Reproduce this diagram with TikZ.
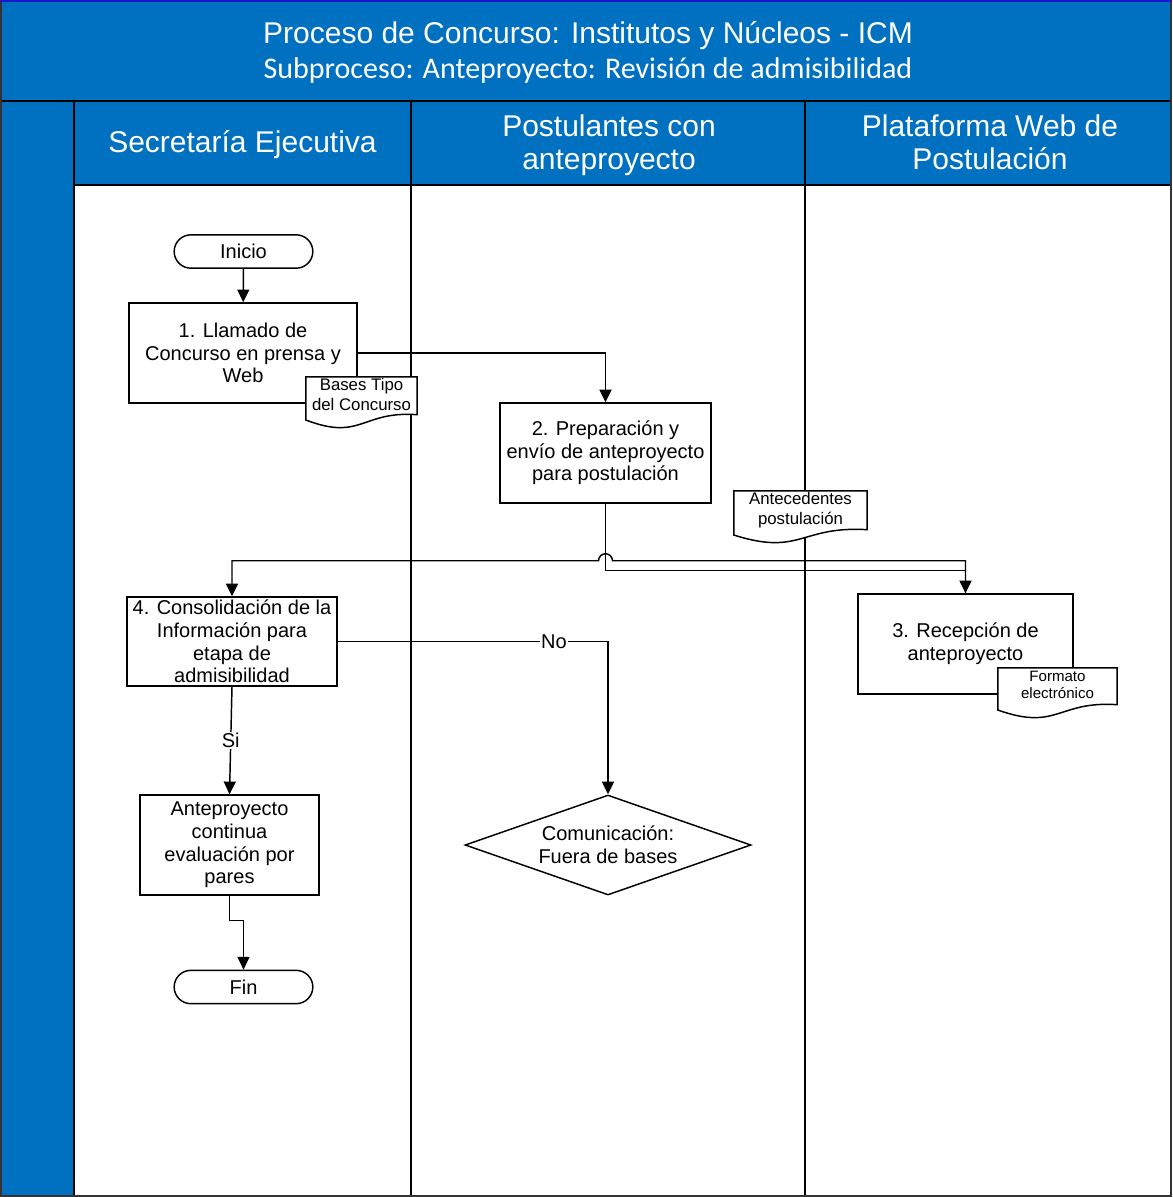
\documentclass[tikz,border=0pt]{standalone}
\usepackage{fontspec}
\setmainfont{Liberation Sans}
\newfontfamily\calibri{Carlito}
\usetikzlibrary{arrows.meta,shapes.geometric}

\definecolor{azul}{HTML}{0070C0}
\definecolor{bordeazul}{HTML}{1818C8}
\newcommand{\piedoc}{\rule[-12pt]{0pt}{0pt}}

\tikzset{
  flujo/.style={line width=1.1pt,-{Triangle[length=9.5pt,width=9pt]}},
  caja/.style={draw,line width=1.1pt,fill=white,align=center,inner sep=1pt,
    font=\fontsize{15}{17}\selectfont},
  terminal/.style={caja,rounded corners=12.5pt,minimum width=104pt,minimum height=25pt},
  rombo/.style={caja,diamond,aspect=2.86,inner sep=0pt,minimum width=214.5pt,minimum height=75pt},
  carril/.style={text=white,align=center,font=\fontsize{22.5}{24.75}\selectfont},
  etiq/.style={fill=white,inner sep=1pt,font=\fontsize{15}{17}\selectfont},
  docu/.style={align=center,inner sep=1pt,font=\fontsize{12.6}{15}\selectfont,
    path picture={
      \draw[fill=white,line width=1.1pt]
        ([shift={(0.6pt,-0.6pt)}]path picture bounding box.north west)
        -- ([shift={(-0.6pt,-0.6pt)}]path picture bounding box.north east)
        -- ([shift={(-0.6pt,10pt)}]path picture bounding box.south east)
        .. controls ([yshift=13pt]path picture bounding box.south)
           and ([yshift=-10pt]path picture bounding box.south)
        .. ([shift={(0.6pt,6pt)}]path picture bounding box.south west)
        -- cycle;
    }}
}

\begin{document}
\begin{tikzpicture}[x=0.75pt,y=-0.75pt]
    \useasboundingbox (0,0) rectangle (1172,1197);
    % Fonds
    \fill[azul] (0,0) rectangle (1172,185);
    \fill[azul] (0,185) rectangle (74,1197);

    % Horizontales
    \draw[line width=1.5pt] (0,101) -- (1172,101);
    \draw[line width=1.5pt] (74,185) -- (1172,185);

    % Verticales
    \draw[line width=1.5pt] (74,101) -- (74,1197);
    \draw[line width=1.5pt] (411,101) -- (411,1197);
    \draw[line width=1.5pt] (805,101) -- (805,1197);

    % Cadre
    \draw[line width=1.5pt,black!80] (1,1) rectangle (1171,1196);
    \draw[line width=1.5pt,bordeazul] (0,1) -- (1172,1);

    % Titre
    \node[carril] (titulo) at (588,36) {Proceso de Concurso: Institutos y Núcleos - ICM};
    \node[carril,font=\calibri\fontsize{22.5}{24.75}\selectfont] (subtitulo) at (588,70)
        {Subproceso: Anteproyecto: Revisión de admisibilidad};

    % Couloirs
    \node[carril] (secretaria) at (242.5,145) {Secretaría Ejecutiva};
    \node[carril] (postulantes) at (609,145) {Postulantes con\\anteproyecto};
    \node[carril] (plataforma) at (990,142) {Plataforma Web de\\Postulación};

    % Etapes
    \node[terminal] (inicio) at (243.5,251.5) {Inicio};
    \node[caja,minimum width=171pt,minimum height=75pt] (c1) at (243,353)
        {1. Llamado de\\Concurso en prensa y\\Web};
    \node[caja,minimum width=158.25pt,minimum height=75pt] (c2) at (605.5,453)
        {2. Preparación y\\envío de anteproyecto\\para postulación};
    \node[caja,minimum width=161.25pt,minimum height=75pt] (c3) at (965.5,644)
        {3. Recepción de\\anteproyecto};
    \node[caja,minimum width=157.5pt,minimum height=66.75pt] (c4) at (232,641.5)
        {4. Consolidación de la\\Información para\\etapa de\\admisibilidad};
    \node[caja,minimum width=134.25pt,minimum height=75pt] (c5) at (229.5,845)
        {Anteproyecto\\continua\\evaluación por\\pares};
    \node[rombo] (fuera) at (608,845) {Comunicación:\\Fuera de bases};
    \node[terminal] (fin) at (243.5,987) {Fin};

    % Documents
    \node[docu,minimum width=84.75pt,minimum height=39pt] (bases) at (361.5,402)
        {Bases Tipo\\del Concurso\piedoc};
    \node[docu,minimum width=101.25pt,minimum height=39.75pt] (antec) at (800.5,516.5)
        {Antecedentes\\postulación\piedoc};
    \node[docu,minimum width=90.75pt,minimum height=38.25pt,
          font=\fontsize{11.3}{12.75}\selectfont] (formato) at (1057.5,692.5)
        {Formato\\electrónico\piedoc};

    % Fleches
    \draw[flujo] (inicio) -- (c1);
    \draw[flujo] (c1.east) -| (c2.north);
    \draw[flujo] (c2.south) -- ++(0,67) -| (c3.north);
    \draw[flujo] (c3.north) |- ([shift={(7,57)}]c2.south)
        arc[start angle=0,end angle=-180,radius=7] -| (c4.north);
    \draw[flujo] (c4.east) -| node[etiq,pos=0.4] (no) {No} (fuera.north);
    \draw[flujo] (c4.south) -- node[etiq] (si) {Si} (c5.north);
    \draw[flujo] (c5.south) -- ++(0,25) -| (fin.north);
\end{tikzpicture}
\end{document}
